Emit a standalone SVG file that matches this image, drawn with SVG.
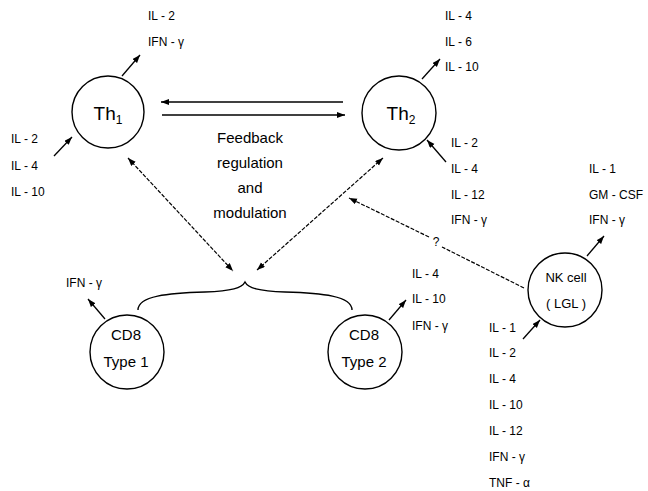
<svg xmlns="http://www.w3.org/2000/svg" width="648" height="491" viewBox="0 0 648 491">
<defs>
<marker id="ah" markerUnits="userSpaceOnUse" markerWidth="9" markerHeight="7" refX="8" refY="3" orient="auto-start-reverse">
<path d="M0,0 L8,3 L0,6 z" fill="#000"/>
</marker>
<style>
.c{fill:#fff;stroke:#000;stroke-width:1.4}
.t{font-family:"Liberation Sans",Arial,sans-serif;fill:#000}
.lab{font-size:12px}
.big{font-size:15px;text-anchor:middle}
.nk{font-size:13px;text-anchor:middle}
.th{font-size:19px;text-anchor:middle}
.a{stroke:#000;stroke-width:1.3;fill:none;marker-end:url(#ah)}
.d{stroke:#000;stroke-width:1.2;fill:none;stroke-dasharray:4 1.5;marker-end:url(#ah)}
.dd{marker-start:url(#ah)}
</style>
</defs>
<rect width="648" height="491" fill="#fff"/>

<g id="connectors">
<line class="a" x1="343" y1="102" x2="161" y2="102"/>
<line class="a" x1="162" y1="115" x2="345" y2="115"/>
<line class="a" x1="122" y1="76" x2="140" y2="55"/>
<line class="a" x1="54" y1="156" x2="72" y2="137"/>
<line class="a" x1="422" y1="79" x2="440" y2="59"/>
<line class="a" x1="446" y1="162" x2="427" y2="140"/>
<line class="a" x1="587" y1="256" x2="604" y2="236"/>
<line class="a" x1="523" y1="339" x2="540" y2="320"/>
<line class="a" x1="105" y1="319" x2="88" y2="299"/>
<line class="a" x1="389" y1="320" x2="406" y2="300"/>
<line class="d dd" x1="128" y1="158" x2="233" y2="271"/>
<line class="d dd" x1="383" y1="158" x2="257" y2="270"/>
<line class="d" x1="429" y1="237" x2="349" y2="198"/>
<line class="d" style="marker-end:none" x1="524" y1="288" x2="442" y2="247"/>
<path d="M138,310 C138,296 168,293 205,292 C232,291 242,288 245,282 C248,288 258,291 285,292 C322,293 352,296 352,310" fill="none" stroke="#000" stroke-width="1.4"/>
<text x="436" y="246" font-family="Liberation Sans, Arial, sans-serif" font-size="12" fill="#000" text-anchor="middle">?</text>
</g>

<g id="th1">
<circle class="c" cx="108" cy="112" r="36"/>
<text class="t th" x="108" y="120">Th<tspan font-size="12" dy="4">1</tspan></text>
<text class="t lab" x="148" y="20">IL - 2</text>
<text class="t lab" x="148" y="46">IFN - γ</text>
<text class="t lab" x="11" y="143">IL - 2</text>
<text class="t lab" x="11" y="170">IL - 4</text>
<text class="t lab" x="11" y="196">IL - 10</text>
</g>

<g id="th2">
<circle class="c" cx="399" cy="113" r="37"/>
<text class="t th" x="401" y="120">Th<tspan font-size="12" dy="4">2</tspan></text>
<text class="t lab" x="445" y="20">IL - 4</text>
<text class="t lab" x="445" y="46">IL - 6</text>
<text class="t lab" x="445" y="71">IL - 10</text>
<text class="t lab" x="451" y="147">IL - 2</text>
<text class="t lab" x="451" y="173">IL - 4</text>
<text class="t lab" x="451" y="199">IL - 12</text>
<text class="t lab" x="451" y="224">IFN - γ</text>
</g>

<g id="feedback">
<text class="t big" x="250" y="143">Feedback</text>
<text class="t big" x="250" y="168">regulation</text>
<text class="t big" x="250" y="193">and</text>
<text class="t big" x="250" y="218">modulation</text>
</g>

<g id="nk">
<circle class="c" cx="565" cy="290" r="37"/>
<text class="t nk" x="566" y="282">NK cell</text>
<text class="t nk" x="566" y="308">( LGL )</text>
<text class="t lab" x="589" y="173">IL - 1</text>
<text class="t lab" x="589" y="199">GM - CSF</text>
<text class="t lab" x="589" y="224">IFN - γ</text>
<text class="t lab" x="489" y="332">IL - 1</text>
<text class="t lab" x="489" y="357">IL - 2</text>
<text class="t lab" x="489" y="383">IL - 4</text>
<text class="t lab" x="489" y="409">IL - 10</text>
<text class="t lab" x="489" y="435">IL - 12</text>
<text class="t lab" x="489" y="461">IFN - γ</text>
<text class="t lab" x="489" y="487">TNF - α</text>
</g>

<g id="cd8type1">
<circle class="c" cx="127" cy="352" r="37"/>
<text class="t big" x="126" y="340">CD8</text>
<text class="t big" x="126" y="367">Type 1</text>
<text class="t lab" x="66" y="287">IFN - γ</text>
</g>

<g id="cd8type2">
<circle class="c" cx="365" cy="352" r="37"/>
<text class="t big" x="364" y="340">CD8</text>
<text class="t big" x="364" y="367">Type 2</text>
<text class="t lab" x="412" y="278">IL - 4</text>
<text class="t lab" x="412" y="303">IL - 10</text>
<text class="t lab" x="412" y="330">IFN - γ</text>
</g>
</svg>
